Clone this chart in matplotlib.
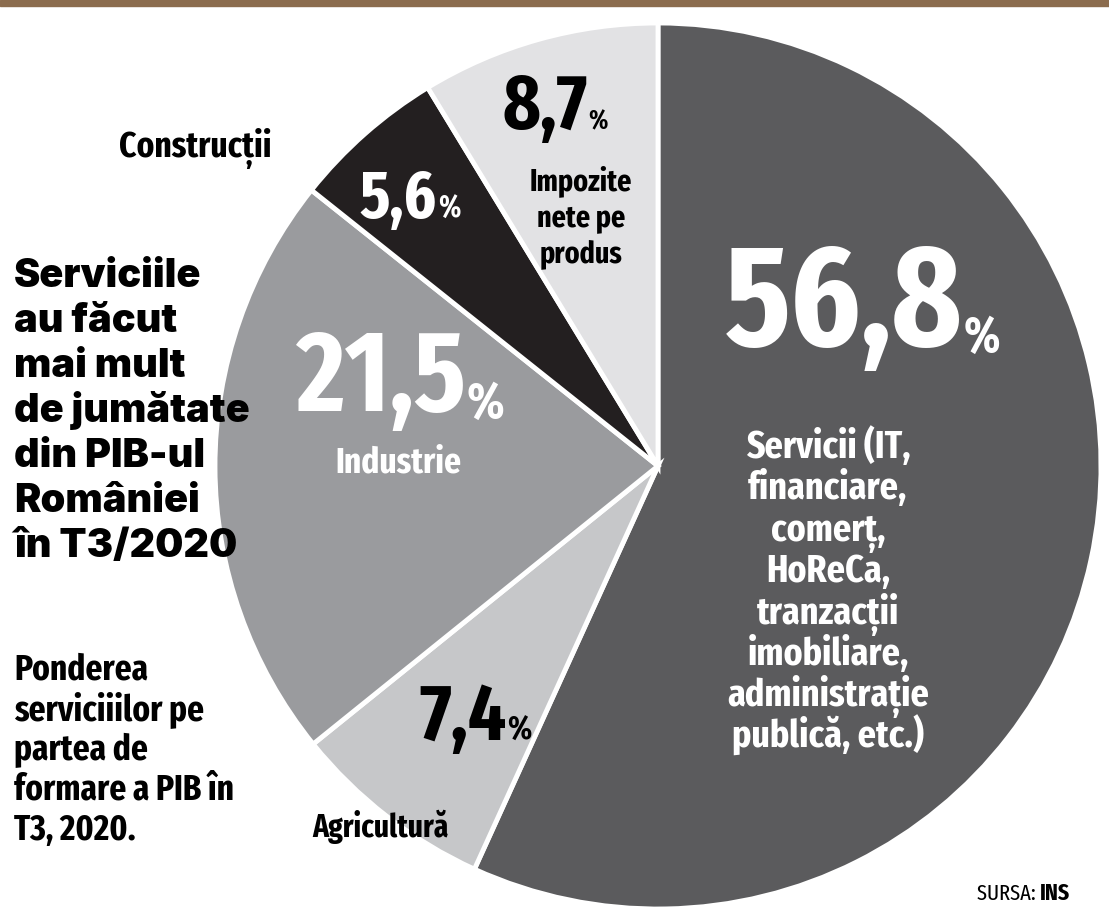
import matplotlib.pyplot as plt
from matplotlib.patches import Rectangle

# Date: structura PIB T3/2020 (sursa INS)
sectoare = ['Servicii', 'Agricultură', 'Industrie', 'Construcții', 'Impozite']
ponderi = [56.8, 7.4, 21.5, 5.6, 8.7]
culori = ['#5b5b5d', '#c6c7c9', '#9a9b9e', '#231f20', '#e2e2e4']
etichete_valori = ['56,8', '7,4', '21,5', '5,6', '8,7']

W, H = 1109, 913
fig = plt.figure(figsize=(W / 100, H / 100), dpi=100)
ax = fig.add_axes([0, 0, 1, 1])

ax.pie(ponderi, colors=culori, startangle=90, counterclock=False,
       center=(658, H - 466), radius=443, frame=True,
       wedgeprops=dict(edgecolor='white', linewidth=3.5))
ax.set_xlim(0, W)
ax.set_ylim(0, H)
ax.set_aspect('equal')
ax.axis('off')

# bara maro de sus
ax.add_patch(Rectangle((0, H - 6), W, 6, color='#8b6c4e', clip_on=False))

cond = 'Fira Sans Extra Condensed'


def y(p):
    return H - p


def procent(xp, yp, val, size, color, psize, yp_pct=None):
    # cifrele aliniate la dreapta, semnul % mic lipit de ele
    if yp_pct is None:
        yp_pct = yp
    ax.text(xp - 1, y(yp), val, fontsize=size, fontfamily=cond, fontweight='bold',
            color=color, ha='right', va='baseline')
    ax.text(xp, y(yp_pct), '%', fontsize=psize, fontfamily=cond, fontweight='bold',
            color=color, ha='left', va='baseline')


def randuri(xp, yp0, pas, linii, ha='center', **kw):
    for i, linie in enumerate(linii):
        ax.text(xp, y(yp0 + i * pas), linie, ha=ha, va='baseline', **kw)


# valori
procent(964, 346, etichete_valori[0], 104, 'white', 36, 352)
procent(467, 411, etichete_valori[2], 82, 'white', 37, 418)
procent(507, 740, etichete_valori[1], 58, 'black', 24)
procent(438, 218, etichete_valori[3], 48, 'white', 22)
procent(588, 129, etichete_valori[4], 56, 'black', 19)

eticheta = dict(fontfamily=cond, fontweight='bold')

# etichete sectoare
randuri(828, 458, 41.4, ['Servicii (IT,', 'financiare,', 'comerț,', 'HoReCa,',
                         'tranzacții', 'imobiliare,', 'administrație',
                         'publică, etc.)'], fontsize=28, color='white', **eticheta)
randuri(398, 472, 0, ['Industrie'], fontsize=26, color='white', **eticheta)
randuri(380, 837, 0, ['Agricultură'], fontsize=23, color='black', **eticheta)
randuri(195, 157, 0, ['Construcții'], fontsize=26, color='black', **eticheta)
randuri(581, 190, 36, ['Impozite', 'nete pe', 'produs'], fontsize=22,
        color='black', **eticheta)

# titlu si subtitlu
randuri(14, 287, 45, ['Serviciile', 'au făcut', 'mai mult', 'de jumătate',
                      'din PIB-ul', 'României', 'în T3/2020'], ha='left',
        fontsize=28.5, fontfamily='Inter', fontweight=900, color='black')
randuri(14, 680, 40, ['Ponderea', 'serviciiilor pe', 'partea de',
                      'formare a PIB în', 'T3, 2020.'], ha='left',
        fontsize=26, color='black', **eticheta)

# sursa
ax.text(1040, y(900), 'SURSA: ', fontsize=16, fontfamily=cond, color='black',
        ha='right', va='baseline')
ax.text(1040, y(900), 'INS', fontsize=17, fontfamily=cond, fontweight='bold',
        color='black', ha='left', va='baseline')

fig.savefig('out.png', dpi=100, facecolor='white')
